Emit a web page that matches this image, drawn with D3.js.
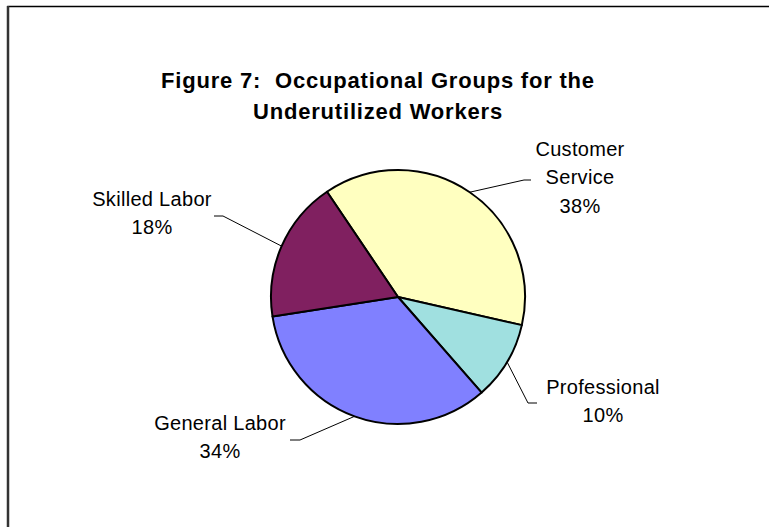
<!DOCTYPE html>
<html>
<head>
<meta charset="utf-8">
<script src="https://cdn.jsdelivr.net/npm/d3@7"></script>
<style>
  body { margin: 0; background: #fff; }
  svg { display: block; font-family: "Liberation Sans", Arial, sans-serif; }
  text { white-space: pre; }
</style>
</head>
<body>
<div class="chart"></div>
<script>
// data
const categories = ['Customer Service', 'Professional', 'General Labor', 'Skilled Labor'];
const values = [38, 10, 34, 18];
const colors = ['#FFFFC0', '#A0E0E0', '#8080FF', '#802060'];
const titleLines = ['Figure 7:  Occupational Groups for the', 'Underutilized Workers'];

// label layout, relative to the pie centre
const labelLayout = [
  { x: 182, y: -120, lines: ['Customer', 'Service'], elbow: [126, -117], tail: 7 },
  { x: 205, y: 104,  lines: ['Professional'],        elbow: [130, 106],  tail: 9 },
  { x: -178, y: 140, lines: ['General Labor'],       elbow: [-98, 143],  tail: -10 },
  { x: -246, y: -84, lines: ['Skilled Labor'],       elbow: [-175, -81], tail: -9 }
];

const width = 769, height = 527;
const cx = 398, cy = 297, r = 127;

const svg = d3.select('.chart').append('svg')
  .attr('width', width)
  .attr('height', height);

// chart area border, it runs off the right and bottom of the picture
svg.append('rect')
  .attr('x', 8).attr('y', 6.5)
  .attr('width', width + 20).attr('height', height + 20)
  .attr('fill', 'none')
  .attr('stroke', '#000')
  .attr('stroke-width', 1.5);
svg.append('line')
  .attr('x1', 8).attr('x2', 8).attr('y1', 6).attr('y2', height)
  .attr('stroke', '#333').attr('stroke-width', 2.5);

svg.selectAll('.title')
  .data(titleLines)
  .enter().append('text')
    .attr('class', 'title')
    .attr('x', 378)
    .attr('y', (d, i) => 88 + i * 31)
    .attr('text-anchor', 'middle')
    .attr('font-size', 22)
    .attr('font-weight', 'bold')
    .attr('letter-spacing', 0.8)
    .text(d => d);

const toRad = Math.PI / 180;
const pie = d3.pie().sort(null).startAngle(-34 * toRad).endAngle(326 * toRad);
const arcs = pie(values);
const arc = d3.arc().innerRadius(0).outerRadius(r);

const g = svg.append('g').attr('transform', `translate(${cx},${cy})`);

g.selectAll('path.slice')
  .data(arcs)
  .enter().append('path')
    .attr('class', 'slice')
    .attr('d', arc)
    .attr('fill', (d, i) => colors[i])
    .attr('stroke', '#000')
    .attr('stroke-width', 2)
    .attr('stroke-linejoin', 'round');

// leader lines: slice edge at mid angle -> elbow -> short horizontal tail
arcs.forEach((d, i) => {
  const lay = labelLayout[i];
  const mid = (d.startAngle + d.endAngle) / 2;
  const ex = Math.sin(mid) * r, ey = -Math.cos(mid) * r;
  const [bx, by] = lay.elbow;
  g.append('path')
    .attr('d', d3.line()([[ex, ey], [bx, by], [bx + lay.tail, by]]))
    .attr('fill', 'none')
    .attr('stroke', '#000')
    .attr('stroke-width', 1);
});

// labels
arcs.forEach((d, i) => {
  const lay = labelLayout[i];
  const lines = lay.lines.concat([values[i] + '%']);
  const lh = 28.5;
  const top = lay.y - (lines.length - 1) * lh / 2;
  const t = g.append('text')
    .attr('text-anchor', 'middle')
    .attr('font-size', 20)
    .attr('letter-spacing', 0.3)
    .attr('fill', '#000');
  lines.forEach((s, k) => {
    t.append('tspan')
      .attr('x', lay.x)
      .attr('y', top + k * lh + 7)
      .text(s);
  });
});
</script>
</body>
</html>
